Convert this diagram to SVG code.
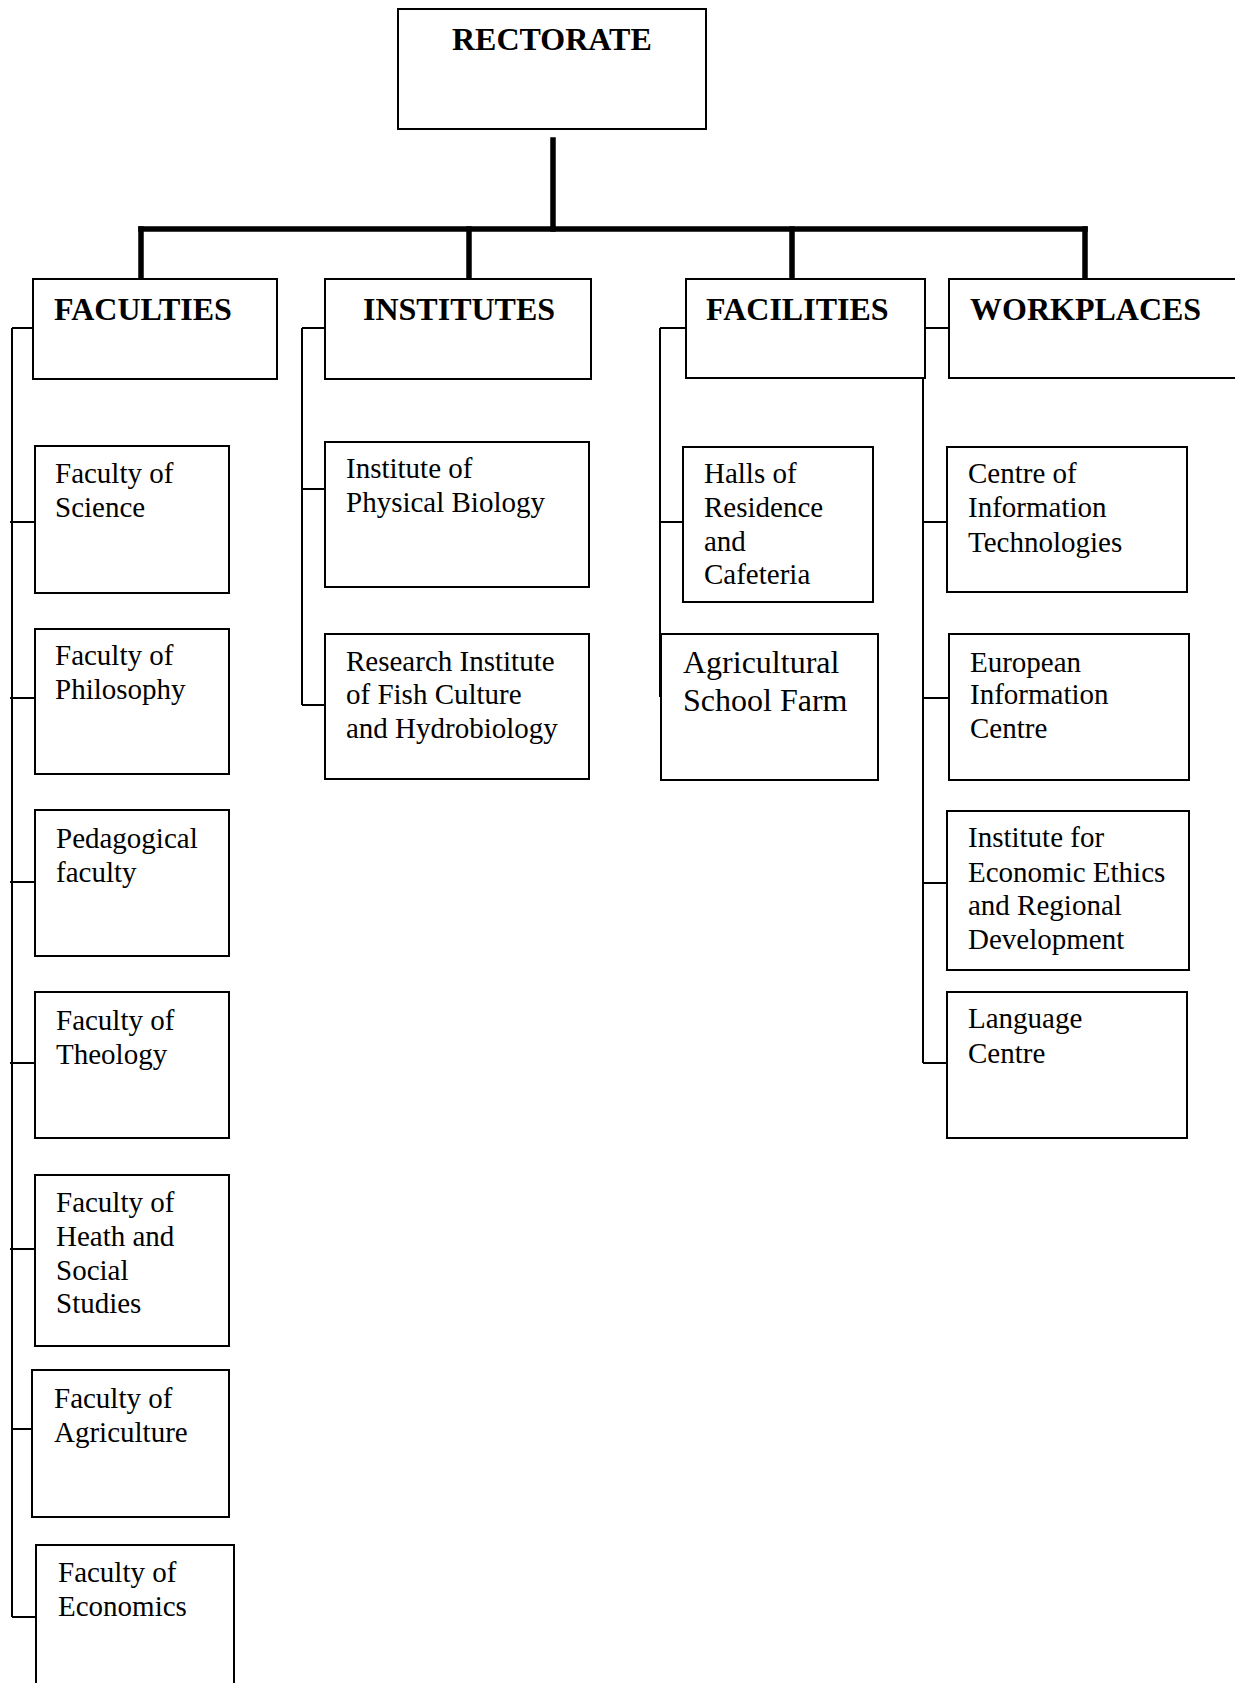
<svg xmlns="http://www.w3.org/2000/svg" width="1235" height="1683" viewBox="0 0 1235 1683">
<style>
.box{fill:#fff;stroke:#000;stroke-width:2}
.thick{stroke:#000;stroke-width:5.5;fill:none;stroke-linecap:square}
.thin{stroke:#000;stroke-width:2;fill:none}
.h{font-family:"Liberation Serif","Times New Roman",serif;font-weight:bold;font-size:32px;fill:#000}
.t{font-family:"Liberation Serif","Times New Roman",serif;font-size:29px;fill:#000}
.t2{font-family:"Liberation Serif","Times New Roman",serif;font-size:32px;fill:#000}
</style>
<rect width="1235" height="1683" fill="#fff"/>
<g id="connectors">
<line class="thick" x1="553" y1="140" x2="553" y2="229"/>
<line class="thick" x1="141" y1="229" x2="1085" y2="229"/>
<line class="thick" x1="141" y1="229" x2="141" y2="278"/>
<line class="thick" x1="469" y1="229" x2="469" y2="278"/>
<line class="thick" x1="792" y1="229" x2="792" y2="278"/>
<line class="thick" x1="1085" y1="229" x2="1085" y2="278"/>
<path class="thin" d="M12 328 V1617 M12 328 H33 M10 522 H35 M10 698 H35 M10 882 H35 M10 1063 H35 M10 1249 H35 M12 1429 H32 M12 1617 H36"/>
<path class="thin" d="M302 328 V705 M302 328 H325 M302 489 H325 M302 705 H325"/>
<path class="thin" d="M660 328 V697 M660 328 H686 M660 522 H683"/>
<path class="thin" d="M923 378 V1063 M925 328 H949 M923 522 H947 M923 698 H949 M923 883 H947 M923 1063 H947"/>
</g>
<g id="rectorate"><rect class="box" x="398" y="9" width="308" height="120"/><text class="h" x="452" y="50">RECTORATE</text></g>
<g id="faculties"><rect class="box" x="33" y="279" width="244" height="100"/><text class="h" x="54" y="320">FACULTIES</text></g>
<g id="institutes"><rect class="box" x="325" y="279" width="266" height="100"/><text class="h" x="363" y="320">INSTITUTES</text></g>
<g id="facilities"><rect class="box" x="686" y="279" width="239" height="99"/><text class="h" x="706" y="320">FACILITIES</text></g>
<g id="workplaces"><rect class="box" x="949" y="279" width="300" height="99"/><text class="h" x="970" y="320">WORKPLACES</text></g>
<g id="fac-science"><rect class="box" x="35" y="446" width="194" height="147"/><text class="t" x="55" y="483">Faculty of</text><text class="t" x="55" y="517">Science</text></g>
<g id="fac-philosophy"><rect class="box" x="35" y="629" width="194" height="145"/><text class="t" x="55" y="665">Faculty of</text><text class="t" x="55" y="699">Philosophy</text></g>
<g id="fac-pedagogical"><rect class="box" x="35" y="810" width="194" height="146"/><text class="t" x="56" y="848">Pedagogical</text><text class="t" x="56" y="882">faculty</text></g>
<g id="fac-theology"><rect class="box" x="35" y="992" width="194" height="146"/><text class="t" x="56" y="1030">Faculty of</text><text class="t" x="56" y="1064">Theology</text></g>
<g id="fac-health"><rect class="box" x="35" y="1175" width="194" height="171"/><text class="t" x="56" y="1212">Faculty of</text><text class="t" x="56" y="1246">Heath and</text><text class="t" x="56" y="1280">Social</text><text class="t" x="56" y="1313">Studies</text></g>
<g id="fac-agriculture"><rect class="box" x="32" y="1370" width="197" height="147"/><text class="t" x="54" y="1408">Faculty of</text><text class="t" x="54" y="1442">Agriculture</text></g>
<g id="fac-economics"><rect class="box" x="36" y="1545" width="198" height="170"/><text class="t" x="58" y="1582">Faculty of</text><text class="t" x="58" y="1616">Economics</text></g>
<g id="inst-physbio"><rect class="box" x="325" y="442" width="264" height="145"/><text class="t" x="346" y="478">Institute of</text><text class="t" x="346" y="512">Physical Biology</text></g>
<g id="inst-fish"><rect class="box" x="325" y="634" width="264" height="145"/><text class="t" x="346" y="671">Research Institute</text><text class="t" x="346" y="704">of Fish Culture</text><text class="t" x="346" y="738">and Hydrobiology</text></g>
<g id="halls"><rect class="box" x="683" y="447" width="190" height="155"/><text class="t" x="704" y="483">Halls of</text><text class="t" x="704" y="517">Residence</text><text class="t" x="704" y="551">and</text><text class="t" x="704" y="584">Cafeteria</text></g>
<g id="farm"><rect class="box" x="661" y="634" width="217" height="146"/><text class="t2" x="683" y="673">Agricultural</text><text class="t2" x="683" y="711">School Farm</text></g>
<g id="cit"><rect class="box" x="947" y="447" width="240" height="145"/><text class="t" x="968" y="483">Centre of</text><text class="t" x="968" y="517">Information</text><text class="t" x="968" y="552">Technologies</text></g>
<g id="eic"><rect class="box" x="949" y="634" width="240" height="146"/><text class="t" x="970" y="672">European</text><text class="t" x="970" y="704">Information</text><text class="t" x="970" y="738">Centre</text></g>
<g id="ethics"><rect class="box" x="947" y="811" width="242" height="159"/><text class="t" x="968" y="847">Institute for</text><text class="t" x="968" y="882">Economic Ethics</text><text class="t" x="968" y="915">and Regional</text><text class="t" x="968" y="949">Development</text></g>
<g id="language"><rect class="box" x="947" y="992" width="240" height="146"/><text class="t" x="968" y="1028">Language</text><text class="t" x="968" y="1063">Centre</text></g>
</svg>
